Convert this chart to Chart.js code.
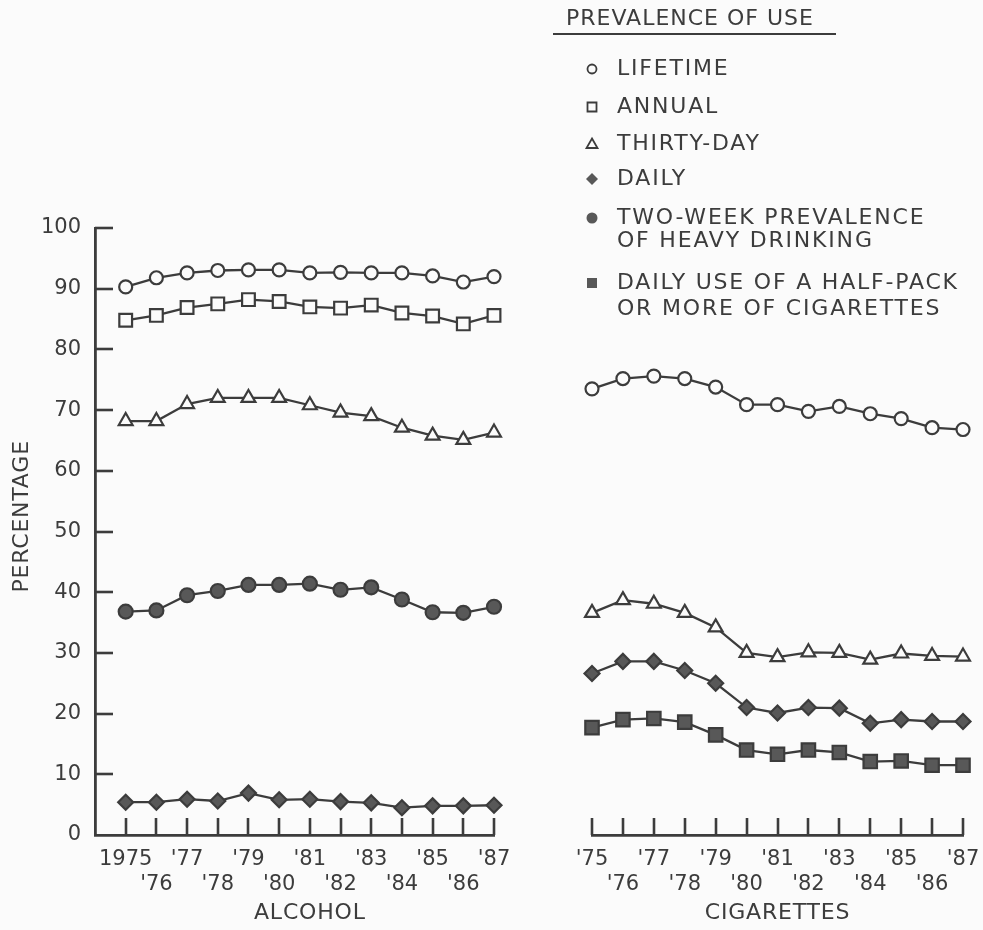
<!DOCTYPE html>
<html>
<head>
<meta charset="utf-8">
<script src="https://cdn.jsdelivr.net/npm/chart.js@4/dist/chart.umd.min.js"></script>
<style>
  html, body { margin: 0; padding: 0; background: #fbfbfb; }
  #wrap { position: relative; width: 983px; height: 930px; }
  canvas { position: absolute; left: 0; top: 0; }
</style>
</head>
<body>
<div id="wrap">
  <canvas id="alcohol" width="983" height="930"></canvas>
  <canvas id="cigarettes" width="983" height="930"></canvas>
</div>
<script>
// Survey years (high school seniors)
const years = [1975, 1976, 1977, 1978, 1979, 1980, 1981, 1982, 1983, 1984, 1985, 1986, 1987];

// Alcohol, percent
const alcoholLifetime  = [90.3, 91.8, 92.6, 93.0, 93.1, 93.1, 92.6, 92.7, 92.6, 92.6, 92.1, 91.1, 92.0];
const alcoholAnnual    = [84.8, 85.6, 86.9, 87.5, 88.2, 87.9, 87.0, 86.8, 87.3, 86.0, 85.5, 84.2, 85.6];
const alcoholThirtyDay = [68.2, 68.2, 71.0, 72.0, 72.0, 72.0, 70.8, 69.6, 69.0, 67.1, 65.8, 65.1, 66.3];
const alcoholHeavy     = [36.8, 37.0, 39.5, 40.2, 41.2, 41.2, 41.4, 40.4, 40.8, 38.8, 36.7, 36.6, 37.6];
const alcoholDaily     = [5.4, 5.4, 5.9, 5.6, 6.9, 5.8, 5.9, 5.5, 5.3, 4.5, 4.8, 4.8, 4.9];

// Cigarettes, percent
const cigLifetime  = [73.5, 75.2, 75.6, 75.2, 73.8, 70.9, 70.9, 69.8, 70.6, 69.4, 68.6, 67.1, 66.8];
const cigThirtyDay = [36.6, 38.7, 38.1, 36.6, 34.2, 30.0, 29.3, 30.1, 30.0, 28.9, 29.9, 29.5, 29.4];
const cigDaily     = [26.6, 28.6, 28.6, 27.1, 25.0, 21.0, 20.1, 21.0, 20.9, 18.4, 19.0, 18.7, 18.7];
const cigHalfPack  = [17.7, 19.0, 19.2, 18.6, 16.5, 14.0, 13.3, 14.0, 13.6, 12.1, 12.2, 11.5, 11.5];

// Y axis ticks and text
const yTicks = [0, 10, 20, 30, 40, 50, 60, 70, 80, 90, 100];
const yTitle = 'PERCENTAGE';
const panelTitles = ['ALCOHOL', 'CIGARETTES'];
const legendTitle = 'PREVALENCE OF USE';
const legendLabels = [
  ['LIFETIME'],
  ['ANNUAL'],
  ['THIRTY-DAY'],
  ['DAILY'],
  ['TWO-WEEK PREVALENCE', 'OF HEAVY DRINKING'],
  ['DAILY USE OF A HALF-PACK', 'OR MORE OF CIGARETTES']
];

// ---- styling ----
const INK = '#3c3c3c';
const FILL = '#585858';
const BG = '#fbfbfb';
const FONT = "'DejaVu Sans', sans-serif";

const pts = vals => years.map((yr, i) => ({ x: yr, y: vals[i] }));

function series(label, vals, style, radius, filled) {
  return {
    label,
    data: pts(vals),
    borderColor: INK,
    borderWidth: 2.3,
    pointStyle: style,
    pointRadius: radius,
    pointBorderWidth: 2.2,
    pointBorderColor: INK,
    pointBackgroundColor: filled ? FILL : BG,
    tension: 0,
    fill: false,
    clip: false
  };
}

const yearLabel = (v, full) => {
  if (v < years[0] || v > years[years.length - 1]) return '';
  const txt = (v === 1975 && full) ? '1975' : "'" + String(v).slice(2);
  return (v - years[0]) % 2 === 0 ? [txt, ''] : ['', txt];
};

// Inward tick stubs on the axes plus the panel caption under the year labels
const axisDecor = {
  id: 'axisDecor',
  afterDraw(chart, args, opts) {
    const ctx = chart.ctx;
    const xs = chart.scales.x, ys = chart.scales.y;
    const area = chart.chartArea;
    ctx.save();
    ctx.strokeStyle = INK;
    ctx.lineWidth = 2.6;
    ctx.lineCap = 'butt';
    years.forEach(yr => {
      const px = Math.round(xs.getPixelForValue(yr));
      ctx.beginPath();
      ctx.moveTo(px, area.bottom);
      ctx.lineTo(px, area.bottom - 17);
      ctx.stroke();
    });
    ctx.fillStyle = INK;
    ctx.font = '22px ' + FONT;
    ctx.textAlign = 'center';
    ctx.textBaseline = 'middle';
    if (ys && ys.options.display) {
      yTicks.forEach(v => {
        if (v === 0) return;
        const py = Math.round(ys.getPixelForValue(v));
        ctx.beginPath();
        ctx.moveTo(area.left, py);
        ctx.lineTo(area.left + 18, py);
        ctx.stroke();
      });
      // rotated y title
      ctx.save();
      ctx.letterSpacing = '0.8px';
      ctx.translate(22, ys.getPixelForValue(52.5));
      ctx.rotate(-Math.PI / 2);
      ctx.fillText(yTitle, 0, 0);
      ctx.restore();
    }
    // panel caption centred under the year range
    const cx = (xs.getPixelForValue(years[0]) + xs.getPixelForValue(years[years.length - 1])) / 2;
    ctx.letterSpacing = '0.8px';
    ctx.fillText(opts.caption, cx, 913);
    ctx.restore();
  }
};

// Legend block drawn above the cigarette panel
const legendBlock = {
  id: 'legendBlock',
  afterDraw(chart) {
    const ctx = chart.ctx;
    ctx.save();
    ctx.fillStyle = INK;
    ctx.strokeStyle = INK;
    ctx.font = '22px ' + FONT;
    ctx.letterSpacing = '1px';
    ctx.textAlign = 'left';
    ctx.textBaseline = 'middle';
    ctx.fillText(legendTitle, 566, 19);
    ctx.lineWidth = 2;
    ctx.beginPath();
    ctx.moveTo(553, 34);
    ctx.lineTo(836, 34);
    ctx.stroke();

    ctx.letterSpacing = '1.8px';
    const rows = [[69], [107], [144], [179], [218, 241], [283, 309]];
    const mx = 592;
    rows.forEach((ys, i) => {
      const y = ys[0];
      ctx.lineWidth = 1.8;
      ctx.beginPath();
      if (i === 0) {
        ctx.arc(mx, y, 4.5, 0, Math.PI * 2);
        ctx.fillStyle = BG; ctx.fill(); ctx.stroke();
      } else if (i === 1) {
        ctx.rect(mx - 4.5, y - 4.5, 9, 9);
        ctx.fillStyle = BG; ctx.fill(); ctx.stroke();
      } else if (i === 2) {
        ctx.moveTo(mx, y - 5.5);
        ctx.lineTo(mx + 5.5, y + 4);
        ctx.lineTo(mx - 5.5, y + 4);
        ctx.closePath();
        ctx.fillStyle = BG; ctx.fill(); ctx.stroke();
      } else if (i === 3) {
        ctx.moveTo(mx, y - 6);
        ctx.lineTo(mx + 6, y);
        ctx.lineTo(mx, y + 6);
        ctx.lineTo(mx - 6, y);
        ctx.closePath();
        ctx.fillStyle = FILL; ctx.fill();
      } else if (i === 4) {
        ctx.arc(mx, y, 5.5, 0, Math.PI * 2);
        ctx.fillStyle = FILL; ctx.fill();
      } else {
        ctx.rect(mx - 5, y - 5, 10, 10);
        ctx.fillStyle = FILL; ctx.fill();
      }
      ctx.fillStyle = INK;
      legendLabels[i].forEach((t, k) => ctx.fillText(t, 617, ys[k]));
    });
    ctx.restore();
  }
};

const tickFont = { family: FONT, size: 21 };

function xScale(min, full) {
  return {
    type: 'linear',
    min, max: 1987,
    // fixed band under the plot; year labels may overhang the plot edges
    afterFit: s => { s.height = 95; s.paddingLeft = 0; s.paddingRight = 0; },
    border: { display: true, color: INK, width: 2.8 },
    grid: { display: false, drawTicks: false },
    ticks: {
      stepSize: 1,
      autoSkip: false,
      maxRotation: 0,
      padding: 12,
      color: INK,
      font: tickFont,
      callback: v => yearLabel(v, full)
    }
  };
}

Chart.defaults.font.family = FONT;

new Chart(document.getElementById('alcohol'), {
  type: 'line',
  data: {
    datasets: [
      series('Lifetime', alcoholLifetime, 'circle', 6.5, false),
      series('Annual', alcoholAnnual, 'rect', 9, false),
      series('Thirty-day', alcoholThirtyDay, 'triangle', 8, false),
      series('Two-week heavy drinking', alcoholHeavy, 'circle', 7, true),
      series('Daily', alcoholDaily, 'rectRot', 7.5, true)
    ]
  },
  options: {
    responsive: false,
    animation: false,
    events: [],
    layout: { padding: { left: 0, right: 489, top: 228, bottom: 0 } },
    scales: {
      x: xScale(1974, true),
      y: {
        min: 0, max: 100,
        afterFit: s => { s.width = 95; },
        border: { display: true, color: INK, width: 2.8 },
        grid: { display: false, drawTicks: false },
        afterBuildTicks: s => { s.ticks = yTicks.map(v => ({ value: v })); },
        ticks: { padding: 14, color: INK, font: tickFont }
      }
    },
    plugins: {
      legend: { display: false },
      tooltip: { enabled: false },
      axisDecor: { caption: panelTitles[0] }
    }
  },
  plugins: [axisDecor]
});

new Chart(document.getElementById('cigarettes'), {
  type: 'line',
  data: {
    datasets: [
      series('Lifetime', cigLifetime, 'circle', 6.5, false),
      series('Thirty-day', cigThirtyDay, 'triangle', 8, false),
      series('Daily', cigDaily, 'rectRot', 7.5, true),
      series('Half-pack or more daily', cigHalfPack, 'rect', 9.5, true)
    ]
  },
  options: {
    responsive: false,
    animation: false,
    events: [],
    layout: { padding: { left: 592, right: 20, top: 228, bottom: 0 } },
    scales: {
      x: xScale(1975, false),
      y: { min: 0, max: 100, display: false }
    },
    plugins: {
      legend: { display: false },
      tooltip: { enabled: false },
      axisDecor: { caption: panelTitles[1] }
    }
  },
  plugins: [axisDecor, legendBlock]
});
</script>
</body>
</html>
